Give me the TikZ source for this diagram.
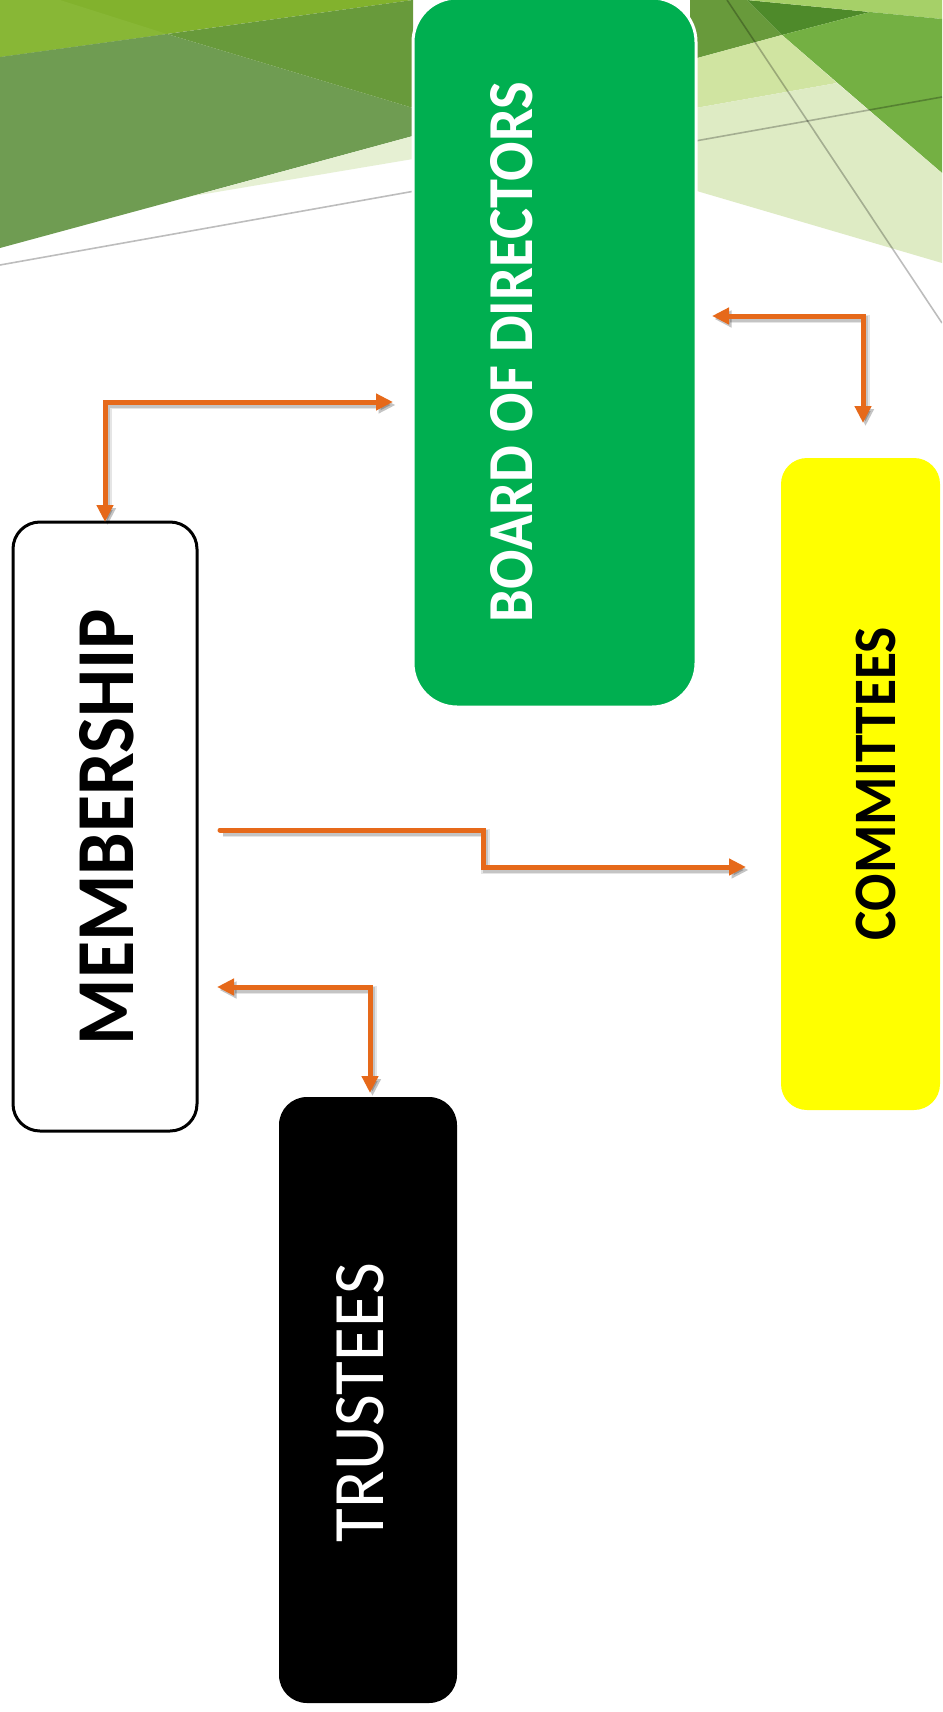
\documentclass[tikz,border=0pt]{standalone}
\usepackage{fontspec}
\setmainfont{Carlito}
\usetikzlibrary{arrows.meta}

\definecolor{boardgreen}{HTML}{00AF50}
\definecolor{comyellow}{HTML}{FFFF00}
\definecolor{linkorange}{HTML}{E6691A}
\definecolor{ygreen}{HTML}{82B22D}
\definecolor{ygreenlt}{HTML}{88B736}
\definecolor{olivemuted}{HTML}{6F9C52}
\definecolor{olivedark}{HTML}{689A3B}
\definecolor{palewedge}{HTML}{E6F0D3}
\definecolor{darkgreen}{HTML}{4E8A2A}
\definecolor{lighttop}{HTML}{A6D068}
\definecolor{medgreen}{HTML}{74B043}
\definecolor{palegreen}{HTML}{D0E4A1}
\definecolor{palergreen}{HTML}{DEEBC4}

\tikzset{
  orgbox/.style={rectangle, inner sep=0pt, outer sep=0pt},
  boxtext/.style={rotate=90, inner sep=0pt, outer sep=0pt},
  link/.style={draw=linkorange, line width=5pt, line join=miter,
    line cap=round,
    arrows={-Triangle[length=17pt,width=16pt]},
    preaction={draw=black, opacity=0.10, line width=8.5pt,
      transform canvas={shift={(2.5pt,-3pt)}}},
    preaction={draw=black, opacity=0.14, line width=5.5pt,
      transform canvas={shift={(2.5pt,-3pt)}}}},
  twoway/.style={arrows={Triangle[length=17pt,width=16pt]-Triangle[length=17pt,width=16pt]}},
  grayline/.style={draw=black, opacity=0.26, line width=1.6pt}
}

\begin{document}
\begin{tikzpicture}[x=1pt,y=-1pt]
\useasboundingbox (0,0) rectangle (942,1712);
\fill[white] (0,0) rectangle (942,1712);

% faceted green header, left part
\begin{scope}
\clip (0,0) rectangle (942,1712);
\fill[ygreen] (0,0) -- (413,0) -- (0,57) -- cycle;
\fill[ygreenlt] (0,0) -- (60,0) -- (167,34) -- (0,57) -- cycle;
\fill[olivemuted] (0,57) -- (167,34) -- (413,108) -- (413,136) -- (0,248) -- cycle;
\fill[olivedark] (167,34) -- (413,0) -- (413,108) -- cycle;
\fill[palewedge] (193,196) -- (413,136) -- (413,159) -- cycle;
% right part
\fill[olivedark] (690,0) -- (747,0) -- (782,35) -- (690,60) -- cycle;
\fill[darkgreen] (747,0) -- (870,12) -- (782,35) -- cycle;
\fill[lighttop] (747,0) -- (942,0) -- (942,19) -- (870,12) -- cycle;
\fill[medgreen] (782,35) -- (870,12) -- (942,19) -- (942,173) -- cycle;
\fill[palegreen] (690,60) -- (782,35) -- (837,83) -- (690,109) -- cycle;
\fill[palergreen] (690,109) -- (837,83) -- (942,173) -- (942,263) -- (690,189) -- cycle;
\draw[grayline] (0,265) -- (942,97);
\draw[grayline] (727,0) -- (942,323);
\end{scope}

% boxes
\node[orgbox, fill=boardgreen, draw=white, line width=3pt, rounded corners=44pt,
      minimum width=283pt, minimum height=709pt] (board) at (554.5,352.5) {};
\node[orgbox, fill=white, draw=black, line width=3pt, rounded corners=27pt,
      minimum width=184pt, minimum height=609pt] (mem) at (105,826.5) {};
\node[orgbox, fill=comyellow, rounded corners=26pt,
      minimum width=159pt, minimum height=652pt] (com) at (860.5,784) {};
\node[orgbox, fill=black, rounded corners=28pt,
      minimum width=178pt, minimum height=606pt] (tru) at (368,1400) {};

% labels
\node[boxtext, text=white] (boardtext) at (512,352)
  {\resizebox{540pt}{42pt}{\bfseries BOARD OF DIRECTORS}};
\node[boxtext, text=black] (memtext) at (107,827)
  {\resizebox{436pt}{54pt}{\bfseries MEMBERSHIP}};
\node[boxtext, text=black] (comtext) at (876,783.5)
  {\resizebox{313pt}{39.5pt}{\bfseries COMMITTEES}};
\node[boxtext, text=white] (trutext) at (360.5,1402.5)
  {\resizebox{279pt}{47pt}{TRUSTEES}};

% connector ends
\coordinate (mb) at (393,402);
\coordinate (bc) at (712,316);
\coordinate (cb) at (863,423);
\coordinate (mc) at (220,830);
\coordinate (mcstep) at (483,867);
\coordinate (cm) at (746,867);
\coordinate (mt) at (217,987);
\coordinate (tm) at (370,1093);

% connectors
\draw[link, twoway] (mem.north) |- (mb);
\draw[link, twoway] (bc) -| (cb);
\draw[link] (mc) -| (mcstep) -- (cm);
\draw[link, twoway] (mt) -| (tm);
\end{tikzpicture}
\end{document}
